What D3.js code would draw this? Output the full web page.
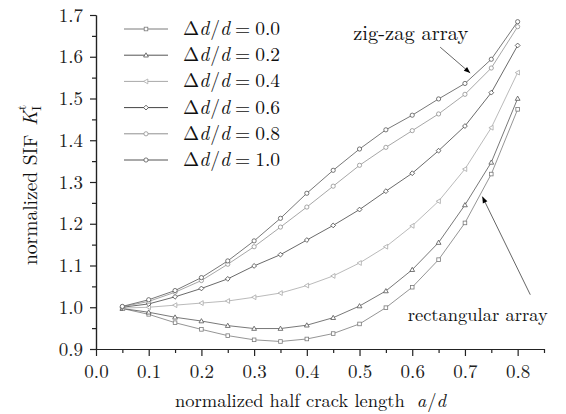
<!DOCTYPE html>
<html>
<head>
<meta charset="utf-8">
<script src="https://cdn.jsdelivr.net/npm/d3@7"></script>
</head>
<body style="margin:0; background:#fff;">
<div id="chart"></div>
<script>
// a/d values (x)
const aOverD = [0.05, 0.1, 0.15, 0.2, 0.25, 0.3, 0.35, 0.4, 0.45, 0.5, 0.55, 0.6, 0.65, 0.7, 0.75, 0.8];

// normalized SIF per Δd/d
const sif00 = [0.997, 0.983, 0.963, 0.947, 0.932, 0.922, 0.918, 0.924, 0.937, 0.960, 0.999, 1.048, 1.114, 1.202, 1.319, 1.474];
const sif02 = [0.997, 0.988, 0.976, 0.967, 0.956, 0.949, 0.949, 0.957, 0.975, 1.003, 1.039, 1.090, 1.155, 1.245, 1.347, 1.500];
const sif04 = [0.998, 1.000, 1.005, 1.010, 1.015, 1.024, 1.034, 1.052, 1.075, 1.106, 1.145, 1.195, 1.254, 1.331, 1.430, 1.562];
const sif06 = [1.000, 1.008, 1.025, 1.045, 1.068, 1.099, 1.126, 1.161, 1.196, 1.234, 1.278, 1.321, 1.375, 1.434, 1.514, 1.627];
const sif08 = [1.001, 1.014, 1.036, 1.064, 1.103, 1.145, 1.192, 1.240, 1.290, 1.340, 1.383, 1.423, 1.463, 1.510, 1.573, 1.672];
const sif10 = [1.002, 1.018, 1.040, 1.071, 1.111, 1.159, 1.213, 1.273, 1.328, 1.379, 1.425, 1.460, 1.499, 1.536, 1.594, 1.684];

const seriesLabels = ["0.0", "0.2", "0.4", "0.6", "0.8", "1.0"];
const seriesValues = [sif00, sif02, sif04, sif06, sif08, sif10];
const seriesColors = ["#7a7a7a", "#555", "#a8a8a8", "#444", "#909090", "#555"];
const seriesSymbols = ["square", "triUp", "triLeft", "diamond", "circle", "circle"];

const xTicks = [0, 0.1, 0.2, 0.3, 0.4, 0.5, 0.6, 0.7, 0.8];
const xMinor = [0.05, 0.15, 0.25, 0.35, 0.45, 0.55, 0.65, 0.75, 0.85];
const yTicks = [0.9, 1.0, 1.1, 1.2, 1.3, 1.4, 1.5, 1.6, 1.7];
const yMinor = [0.95, 1.05, 1.15, 1.25, 1.35, 1.45, 1.55, 1.65];

const FONT = '"Latin Modern Roman", "Liberation Serif", serif';

const W = 566, H = 414;
const margin = {top: 15, right: 22, bottom: 65, left: 96};
const width = W - margin.left - margin.right;
const height = H - margin.top - margin.bottom;

const svg = d3.select("#chart").append("svg")
    .attr("width", W)
    .attr("height", H)
    .attr("font-family", FONT);

const chart = svg.append("g")
    .attr("transform", `translate(${margin.left},${margin.top})`);

const x = d3.scaleLinear().domain([0, 0.85]).range([0, width]);
const y = d3.scaleLinear().domain([0.9, 1.7]).range([height, 0]);

function styleAxis(g) {
    g.attr("font-family", FONT).attr("font-size", 19);
    g.selectAll("path, line").attr("stroke", "#222").attr("stroke-width", 1.2);
    g.selectAll("text").attr("fill", "#222");
}

// axes: major ticks with labels, minor ticks without
chart.append("g")
    .attr("transform", `translate(0,${height})`)
    .call(d3.axisBottom(x).tickValues(xTicks).tickFormat(d3.format(".1f")).tickSize(7).tickSizeOuter(0).tickPadding(9))
    .call(styleAxis);
chart.append("g")
    .attr("transform", `translate(0,${height})`)
    .call(d3.axisBottom(x).tickValues(xMinor).tickFormat("").tickSize(4).tickSizeOuter(0))
    .call(styleAxis);
chart.append("g")
    .call(d3.axisLeft(y).tickValues(yTicks).tickFormat(d3.format(".1f")).tickSize(6).tickSizeOuter(0).tickPadding(7))
    .call(styleAxis);
chart.append("g")
    .call(d3.axisLeft(y).tickValues(yMinor).tickFormat("").tickSize(4).tickSizeOuter(0))
    .call(styleAxis);

// marker drawing
function drawMarker(sel, type, color) {
    const r = 1.8;
    if (type === "circle") {
        sel.append("circle").attr("r", r + 0.3);
    } else if (type === "square") {
        sel.append("rect").attr("x", -r).attr("y", -r).attr("width", 2 * r).attr("height", 2 * r);
    } else {
        let pts;
        if (type === "triUp") pts = [[0, -r - 0.6], [r + 0.6, r], [-r - 0.6, r]];
        else if (type === "triLeft") pts = [[-r - 0.6, 0], [r, -r - 0.6], [r, r + 0.6]];
        else pts = [[0, -r - 0.6], [r + 0.6, 0], [0, r + 0.6], [-r - 0.6, 0]];
        sel.append("polygon").attr("points", pts.map(p => p.join(",")).join(" "));
    }
    sel.selectAll("*").attr("fill", "#fff").attr("stroke", color).attr("stroke-width", 0.8);
}

const line = d3.line().x((d, i) => x(aOverD[i])).y(d => y(d));

seriesValues.forEach((vals, k) => {
    const g = chart.append("g");
    g.append("path")
        .datum(vals)
        .attr("fill", "none")
        .attr("stroke", seriesColors[k])
        .attr("stroke-width", 0.8)
        .attr("d", line);
    g.selectAll("g.pt")
        .data(vals)
        .join("g")
        .attr("class", "pt")
        .attr("transform", (d, i) => `translate(${x(aOverD[i])},${y(d)})`)
        .each(function() { drawMarker(d3.select(this), seriesSymbols[k], seriesColors[k]); });
});

// legend
const legend = svg.append("g");
seriesLabels.forEach((lab, k) => {
    const ly = 29 + k * 26.2;
    legend.append("line")
        .attr("x1", 124).attr("x2", 168).attr("y1", ly).attr("y2", ly)
        .attr("stroke", seriesColors[k]).attr("stroke-width", 1);
    drawMarker(legend.append("g").attr("transform", `translate(146,${ly})`), seriesSymbols[k], seriesColors[k]);
    const t = legend.append("text")
        .attr("x", 183).attr("y", ly + 6)
        .attr("font-size", 19.5).attr("fill", "#111");
    t.append("tspan").text("Δ");
    t.append("tspan").attr("font-style", "italic").text("d");
    t.append("tspan").attr("dx", 1).text("/");
    t.append("tspan").attr("font-style", "italic").text("d");
    t.append("tspan").attr("dx", 5).text("=");
    t.append("tspan").attr("dx", 5).text(lab);
});

// axis titles
const xt = svg.append("text")
    .attr("x", 175).attr("y", 407)
    .attr("font-size", 18.5).attr("fill", "#111");
xt.append("tspan").text("normalized half crack length");
xt.append("tspan").attr("dx", 12).attr("font-style", "italic").text("a");
xt.append("tspan").attr("dx", 1).text("/");
xt.append("tspan").attr("font-style", "italic").text("d");

const yt = svg.append("text")
    .attr("transform", "translate(37,185) rotate(-90)")
    .attr("text-anchor", "middle")
    .attr("font-size", 19.5).attr("fill", "#111");
yt.append("tspan").text("normalized SIF");
yt.append("tspan").attr("dx", 9).attr("font-style", "italic").text("K");
yt.append("tspan").attr("dy", 4).attr("font-size", 13).text("I");
yt.append("tspan").attr("dx", -4).attr("dy", -15).attr("font-size", 13).text("t");

// annotations, positioned in data units
svg.append("defs").append("marker")
    .attr("id", "arrow").attr("viewBox", "0 0 10 10")
    .attr("refX", 10).attr("refY", 5)
    .attr("markerWidth", 9).attr("markerHeight", 7)
    .attr("orient", "auto")
    .append("path").attr("d", "M0,1 L10,5 L0,9 Z").attr("fill", "#000");

chart.append("text")
    .attr("x", x(0.488)).attr("y", y(1.64))
    .attr("font-size", 20.5).attr("fill", "#111")
    .text("zig-zag array");
chart.append("line")
    .attr("x1", x(0.653)).attr("y1", y(1.623))
    .attr("x2", x(0.710)).attr("y2", y(1.561))
    .attr("stroke", "#555").attr("stroke-width", 0.9)
    .attr("marker-end", "url(#arrow)");

chart.append("text")
    .attr("x", x(0.857)).attr("y", y(0.968))
    .attr("text-anchor", "end")
    .attr("font-size", 18.5).attr("fill", "#111")
    .text("rectangular array");
chart.append("line")
    .attr("x1", x(0.824)).attr("y1", y(1.030))
    .attr("x2", x(0.733)).attr("y2", y(1.265))
    .attr("stroke", "#555").attr("stroke-width", 0.9)
    .attr("marker-end", "url(#arrow)");
</script>
</body>
</html>
